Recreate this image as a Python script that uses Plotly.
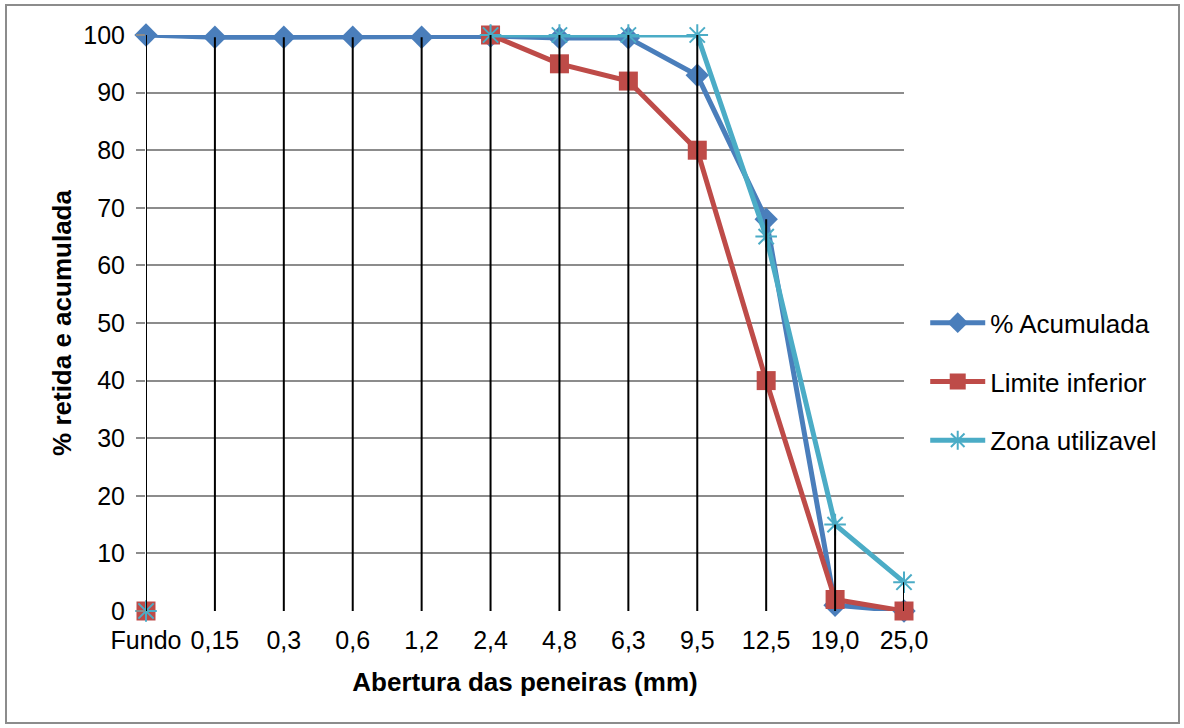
import plotly.graph_objects as go

categories = ["Fundo", "0,15", "0,3", "0,6", "1,2", "2,4", "4,8", "6,3", "9,5", "12,5", "19,0", "25,0"]
acumulada = [100, 99.6, 99.6, 99.6, 99.6, 99.8, 99.5, 99.5, 93, 68, 1, 0]
limite_inferior = [0, None, None, None, None, 100, 95, 92, 80, 40, 2, 0]
zona_utilizavel = [0, None, None, None, None, 100, 100, 100, 100, 65, 15, 5]

BLUE = "#4A7EBB"
RED = "#BE4B48"
CYAN = "#4BACC6"
FONT = "Liberation Sans, Arial, sans-serif"

fig = go.Figure()

fig.add_trace(go.Scatter(
    x=categories, y=acumulada, name="% Acumulada", mode="lines+markers",
    line=dict(color=BLUE, width=5),
    marker=dict(symbol="diamond", size=18, color=BLUE),
    cliponaxis=False, legendgroup="a"))
fig.add_trace(go.Scatter(
    x=categories, y=limite_inferior, name="Limite inferior", mode="lines+markers",
    line=dict(color=RED, width=5),
    marker=dict(symbol="square", size=19, color=RED),
    cliponaxis=False, connectgaps=False, legendgroup="b"))
fig.add_trace(go.Scatter(
    x=categories, y=zona_utilizavel, name="Zona utilizavel", mode="lines+markers",
    line=dict(color=CYAN, width=5),
    marker=dict(symbol="asterisk-open", size=18, color=CYAN, line=dict(color=CYAN, width=2)),
    cliponaxis=False, connectgaps=False, legendgroup="c"))

# drop lines: from highest value at each category down to 0
dx, dy = [], []
for i, c in enumerate(categories):
    vals = [v for v in (acumulada[i], limite_inferior[i], zona_utilizavel[i]) if v is not None]
    top = max(vals)
    dx += [c, c, None]
    dy += [top, 0, None]
fig.add_trace(go.Scatter(
    x=dx, y=dy, mode="lines", line=dict(color="black", width=2),
    showlegend=False, hoverinfo="skip", cliponaxis=False))

fig.update_layout(
    width=1184, height=728,
    margin=dict(l=146, r=280, t=35, b=117),
    paper_bgcolor="white", plot_bgcolor="white",
    font=dict(family=FONT, size=25, color="black"),
    showlegend=True,
    legend=dict(x=1.028, y=0.398, xanchor="left", yanchor="middle",
                font=dict(family=FONT, size=26, color="black"),
                tracegroupgap=22, itemwidth=55, bgcolor="rgba(0,0,0,0)"),
    xaxis=dict(
        type="category", categoryorder="array", categoryarray=categories,
        range=[0, len(categories) - 1],
        showgrid=False, zeroline=False, showline=False, ticks="",
        tickfont=dict(family=FONT, size=25, color="black"),
        ticklabelstandoff=12,
        title=dict(text="<b>Abertura das peneiras (mm)</b>", font=dict(family=FONT, size=26), standoff=19),
    ),
    yaxis=dict(
        range=[0, 100], dtick=10, tick0=0,
        showgrid=True, gridcolor="#8C8C8C", gridwidth=1.5,
        zeroline=False, showline=False,
        ticks="outside", ticklen=9, tickcolor="#8C8C8C", tickwidth=1.5,
        tickfont=dict(family=FONT, size=25, color="black"),
        ticklabelstandoff=6,
        title=dict(text="<b>% retida e acumulada</b>", font=dict(family=FONT, size=26), standoff=4),
    ),
    shapes=[dict(type="rect", xref="paper", yref="paper",
                 x0=-146/758 + 6/758, x1=1 + 275/758, y0=-117/576 + 5/576, y1=1 + 30/576,
                 line=dict(color="#8C8C8C", width=2), fillcolor="rgba(0,0,0,0)", layer="below")],
)

fig.write_html("out.html")
